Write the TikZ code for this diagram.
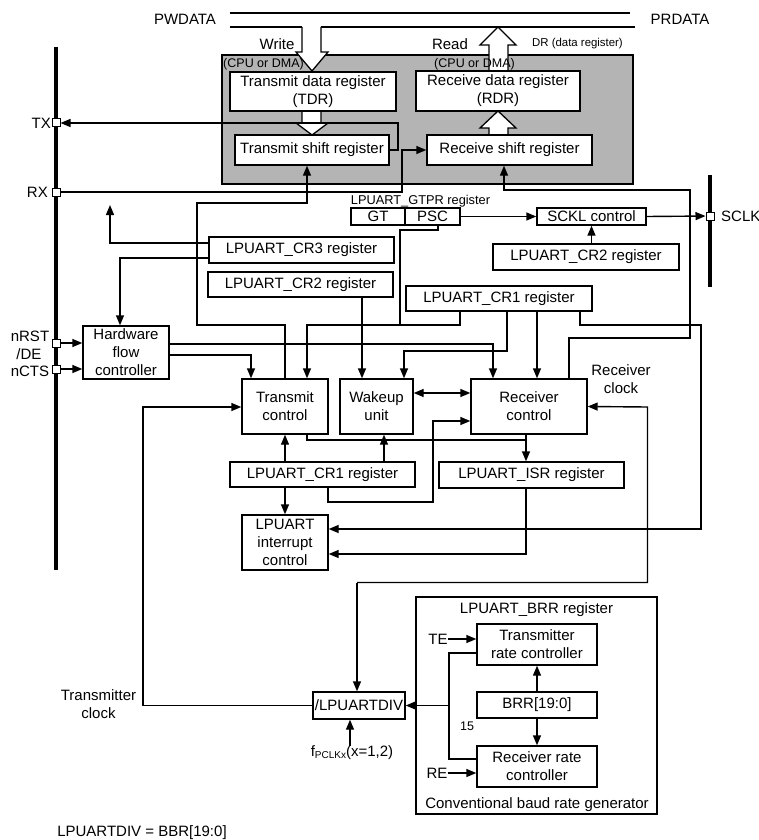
\documentclass[tikz,border=0pt]{standalone}
\usepackage{fontspec}
\setmainfont{Liberation Sans}
\usetikzlibrary{arrows.meta}
\definecolor{boxgray}{RGB}{180,180,180}
\begin{document}
\begin{tikzpicture}[x=1pt,y=-1pt,
  font=\fontsize{15}{18}\selectfont,
  ln/.style={line width=1.4pt},
  arr/.style={ln,-{Triangle[length=10pt,width=8pt]}},
  darr/.style={ln,{Triangle[length=10pt,width=8pt]}-{Triangle[length=10pt,width=8pt]}},
  blk/.style={draw,line width=1.4pt,fill=white,inner sep=0pt,align=center},
  pinbox/.style={draw,fill=white,line width=1pt,minimum size=8pt,inner sep=0pt},
  lbl/.style={inner sep=0pt,align=center},
  smalltext/.style={font=\fontsize{12.5}{14}\selectfont},
  hollow/.style={line width=1.3pt,fill=white}
]
\useasboundingbox (0,0) rectangle (759,840);

% ---- top buses
\node[lbl] (pw) at (185,19) {PWDATA};
\node[lbl] (pr) at (680,19) {PRDATA};
\draw[ln] (230,13) -- (630,13);
\draw[ln] (230,27) -- (302,27);
\draw[ln] (321,27) -- (635,27);

% ---- grey data register block
\draw[line width=1.4pt,fill=boxgray] (222,55) rectangle (633,184);

% hollow arrows
\draw[hollow] (302,27) -- (302,52) -- (296,52) -- (312,71) -- (328,52) -- (321,52) -- (321,27);
\draw[hollow] (302,111) -- (302,123) -- (296,123) -- (312,135) -- (328,123) -- (321,123) -- (321,111);
\draw[hollow] (489,71) -- (489,45) -- (480,45) -- (498,27) -- (516,45) -- (508,45) -- (508,71);
\draw[hollow] (489,135) -- (489,128) -- (480,128) -- (498,111) -- (516,128) -- (508,128) -- (508,135);

\node[lbl] (wr) at (277,44) {Write};
\node[lbl,smalltext] (cpu1) at (263.5,64) {(CPU or DMA)};
\node[lbl] (rd) at (450,44) {Read};
\node[lbl,smalltext] (cpu2) at (474.5,64) {(CPU or DMA)};
\node[lbl,font=\fontsize{11.4}{13}\selectfont] (drl) at (577.5,44) {DR (data register)};

\node[blk,minimum width=166pt,minimum height=39pt] (TDR) at (313,91.5) {Transmit data register\\(TDR)};
\node[blk,minimum width=164pt,minimum height=40pt] (RDR) at (498,91) {Receive data register\\(RDR)};
\node[blk,minimum width=154pt,minimum height=30pt] (TSR) at (312,150) {Transmit shift register};
\node[blk,minimum width=165pt,minimum height=30pt] (RSR) at (509.5,150) {Receive shift register};

% ---- left and right buses with pins
\draw[line width=4pt] (56,47) -- (56,570);
\draw[line width=4pt] (710,175) -- (710,287);
\node[pinbox] (TXp) at (56,123) {};
\node[pinbox] (RXp) at (56,192) {};
\node[pinbox] (RSTp) at (56,343) {};
\node[pinbox] (CTSp) at (56,369) {};
\node[pinbox] (SCLKp) at (710,216) {};
\node[lbl,anchor=east] (TXl) at (51,123) {TX};
\node[lbl,anchor=east] (RXl) at (48,192) {RX};
\node[lbl] (rstl) at (30,336) {nRST};
\node[lbl] (del) at (29,354) {/DE};
\node[lbl] (ctsl) at (30,371) {nCTS};
\node[lbl,anchor=west] (sclkl) at (721,216) {SCLK};

% ---- middle blocks
\node[lbl,font=\fontsize{12.8}{14}\selectfont] (gtprl) at (420.5,201) {LPUART\_GTPR register};
\node[blk,minimum width=54pt,minimum height=17pt] (GT) at (378,216.5) {GT};
\node[blk,minimum width=55pt,minimum height=17pt] (PSC) at (432.5,216.5) {PSC};
\node[blk,minimum width=109pt,minimum height=17pt] (SCKL) at (591.5,216.5) {SCKL control};
\node[blk,minimum width=186pt,minimum height=26pt] (CR2R) at (586,257) {LPUART\_CR2 register};
\node[blk,minimum width=185pt,minimum height=26pt] (CR3) at (301.5,250) {LPUART\_CR3 register};
\node[blk,minimum width=185pt,minimum height=25pt] (CR2L) at (300.5,284.5) {LPUART\_CR2 register};
\node[blk,minimum width=186pt,minimum height=25pt] (CR1T) at (499,298.5) {LPUART\_CR1 register};
\node[blk,minimum width=86pt,minimum height=53pt] (HFC) at (126,352.5) {Hardware\\flow\\controller};
\node[blk,minimum width=86pt,minimum height=55pt] (TC) at (285,406.5) {Transmit\\control};
\node[blk,minimum width=73pt,minimum height=55pt] (WU) at (376.5,406.5) {Wakeup\\unit};
\node[blk,minimum width=116pt,minimum height=55pt] (RC) at (529,406.5) {Receiver\\control};
\node[lbl] (rcl) at (621,379) {Receiver\\clock};
\node[blk,minimum width=185pt,minimum height=25pt] (CR1L) at (322.5,474.5) {LPUART\_CR1 register};
\node[blk,minimum width=185pt,minimum height=26pt] (ISR) at (531.5,475) {LPUART\_ISR register};
\node[blk,minimum width=86pt,minimum height=55pt] (IC) at (285,542.5) {LPUART\\interrupt\\control};

% ---- baud rate generator
\draw[line width=1.4pt] (416,597) rectangle (657,814);
\node[lbl] (brrl) at (536.5,610) {LPUART\_BRR register};
\node[lbl] (cbrg) at (537,805) {Conventional baud rate generator};
\node[blk,minimum width=120pt,minimum height=41pt] (TRC) at (537,644.5) {Transmitter\\rate controller};
\node[blk,minimum width=120pt,minimum height=26pt] (BRR) at (537,705) {BRR[19:0]};
\node[blk,minimum width=120pt,minimum height=41pt] (RRC) at (537,766.5) {Receiver rate\\controller};
\node[blk,minimum width=92pt,minimum height=27pt] (DIV) at (359,705.5) {/LPUARTDIV};
\node[lbl] (tel) at (438,639) {TE};
\node[lbl] (rel) at (437,773) {RE};
\node[lbl,smalltext] (n15) at (467,726) {15};
\node[lbl] (fpl) at (352,753) {f{\fontsize{10}{10}\selectfont\raisebox{-2pt}{PCLKx}}(x=1,2)};
\node[lbl] (txcl) at (98.5,704.5) {Transmitter\\clock};
\node[lbl] (divl) at (142,833) {LPUARTDIV = BBR[19:0]};

% ---- connectors
\draw[arr] (TSR.east) -- (398,150) -- (398,123) -- (TXp);
\draw[arr] (RXp) -- (402,192) -- (402,150) -- (RSR.west);
\draw[arr] (RSTp) -- ([yshift=9.5pt]HFC.west);
\draw[arr] (CTSp) -- ([yshift=-16.5pt]HFC.west);

\draw[arr] (TC.north) -- (285,325) -- (197,325) -- (197,203) -- (307,203) -- ([xshift=-5pt]TSR.south);
\draw[arr] ([yshift=-2.5pt]HFC.east) -- (251,355) -- ([xshift=-34pt]TC.north);
\draw[arr] ([yshift=8.5pt]HFC.east) -- (493,344) -- ([xshift=-36pt]RC.north);

\coordinate (upend) at (110,205);
\draw[arr] ([yshift=7pt]CR3.west) -- (110,243) -- (upend);
\draw[arr] ([yshift=-8pt]CR3.west) -- (120,258) -- ([xshift=-6pt]HFC.north);

\draw[arr] ([xshift=61.5pt]CR2L.south) -- ([xshift=-14.5pt]WU.north);

\draw[arr] ([xshift=5.5pt]PSC.south) -- (438,230) -- (400,230) -- (400,325) -- (307,325) -- ([xshift=22pt]TC.north);
\draw[ln] ([xshift=-39pt]CR1T.south) -- (460,325) -- (400,325);
\draw[arr] ([xshift=8pt]CR1T.south) -- (507,351) -- (404,351) -- ([xshift=27.5pt]WU.north);
\draw[arr] ([xshift=38pt]CR1T.south) -- ([xshift=8pt]RC.north);
\draw[arr] ([xshift=81pt]CR1T.south) -- (580,325) -- (701,325) -- (701,529) -- ([yshift=13.5pt]IC.east);

\draw[arr] (PSC.east) -- (SCKL.west);
\draw[arr] (SCKL.east) -- (SCLKp);
\draw[arr] (SCKL.south |- CR2R.north) -- (SCKL.south);

\draw[arr] ([xshift=40pt]RC.north) -- (569,338) -- (690,338) -- (690,190) -- (504,190) -- ([xshift=-5.5pt]RSR.south);

\draw[darr] ([yshift=13.5pt]WU.east) -- ([yshift=13.5pt]RC.west);
\draw[arr] ([xshift=5.5pt]CR1L.south) -- (328,502) -- (433,502) -- (433,421) -- ([yshift=-14.5pt]RC.west);

\draw[ln] ([xshift=22pt]TC.south) -- (307,440) -- (526,440);
\draw[arr] ([xshift=-3pt]RC.south) -- ([xshift=-5.5pt]ISR.north);

\draw[arr] ([xshift=61.5pt]CR1L.north) -- ([xshift=7.5pt]WU.south);
\draw[arr] ([xshift=-37.5pt]CR1L.north) -- (TC.south);
\draw[arr] ([xshift=-37.5pt]CR1L.south) -- (IC.north);
\draw[arr] ([xshift=-5.5pt]ISR.south) -- (526,554) -- ([yshift=-11.5pt]IC.east);

\coordinate (rk1) at (357,582.5);
\draw[arr] (rk1) -- ([xshift=-2pt]DIV.north);
\draw[arr] (rk1) -- (647.5,582.5) -- (647.5,407) -- (RC.east);
\draw[arr] (DIV.west) -- (143,705.5) -- (143,407) -- ([yshift=-0.5pt]TC.west);

\coordinate (bj) at (449,705.5);
\draw[ln] ([yshift=-8.5pt]TRC.west) -- (449,653) -- (449,759) -- ([yshift=7.5pt]RRC.west);
\draw[arr] (bj) -- (DIV.east);
\draw[arr] (BRR.north) -- (TRC.south);
\draw[arr] (BRR.south) -- (RRC.south |- RRC.north);
\draw[arr] (tel.east) -- ([yshift=5.5pt]TRC.west);
\draw[arr] (rel.east) -- ([yshift=-6.5pt]RRC.west);
\draw[arr] ([xshift=-2pt]fpl.north) -- ([xshift=-9pt]DIV.south);
\end{tikzpicture}
\end{document}
